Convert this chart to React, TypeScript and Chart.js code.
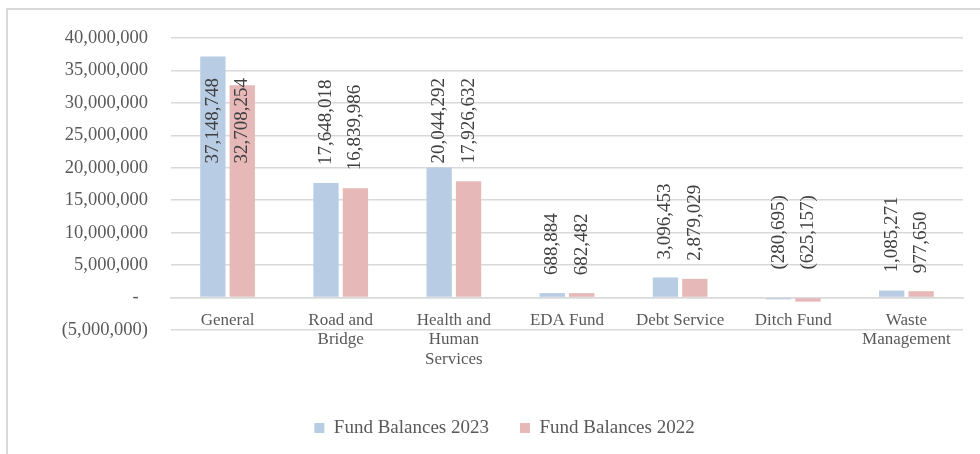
import React, { useEffect, useRef } from "react";
import { Chart, registerables } from "chart.js";

Chart.register(...registerables);

const FONT = "'Liberation Serif', 'Times New Roman', serif";

const categories: (string | string[])[] = [
  "General",
  ["Road and", "Bridge"],
  ["Health and", "Human", "Services"],
  "EDA Fund",
  "Debt Service",
  "Ditch Fund",
  ["Waste", "Management"],
];

const balances2023 = [37148748, 17648018, 20044292, 688884, 3096453, -280695, 1085271];
const balances2022 = [32708254, 16839986, 17926632, 682482, 2879029, -625157, 977650];

const seriesNames = ["Fund Balances 2023", "Fund Balances 2022"];
const seriesColors = ["#B8CCE4", "#E6B8B7"];

const yMin = -5000000;
const yMax = 40000000;
const yStep = 5000000;

const fmtNum = (v: number) => Math.abs(v).toLocaleString("en-US");
const fmtTick = (v: number) => (v === 0 ? "-  " : v < 0 ? "(" + fmtNum(v) + ")" : fmtNum(v));
const fmtLabel = (v: number) => (v < 0 ? "(" + fmtNum(v) + ")" : fmtNum(v));

const barLabels = {
  id: "barLabels",
  afterDatasetsDraw(chart: any) {
    const ctx = chart.ctx;
    const zeroY = chart.scales.y.getPixelForValue(0);
    const topLimit = chart.chartArea.top + 40;
    ctx.save();
    ctx.font = `19px ${FONT}`;
    ctx.fillStyle = "#404040";
    ctx.textBaseline = "middle";
    ctx.textAlign = "left";
    chart.data.datasets.forEach((ds: any, di: number) => {
      const meta = chart.getDatasetMeta(di);
      meta.data.forEach((bar: any, i: number) => {
        const v = ds.data[i] as number;
        const text = fmtLabel(v);
        const w = ctx.measureText(text).width;
        let bottom = v >= 0 ? Math.min(bar.y, zeroY) - 18 : zeroY - 28;
        if (bottom - w < topLimit) bottom = topLimit + w;
        ctx.save();
        ctx.translate(bar.x, bottom);
        ctx.rotate(-Math.PI / 2);
        ctx.fillText(text, 0, 0);
        ctx.restore();
      });
    });
    ctx.restore();
  },
};

export default function App() {
  const ref = useRef<HTMLCanvasElement | null>(null);

  useEffect(() => {
    if (!ref.current) return;
    const chart = new Chart(ref.current, {
      type: "bar",
      data: {
        labels: categories,
        datasets: [
          {
            label: seriesNames[0],
            data: balances2023,
            backgroundColor: seriesColors[0],
            categoryPercentage: 0.52,
            barPercentage: 0.86,
          },
          {
            label: seriesNames[1],
            data: balances2022,
            backgroundColor: seriesColors[1],
            categoryPercentage: 0.52,
            barPercentage: 0.86,
          },
        ],
      },
      options: {
        responsive: false,
        animation: false,
        layout: { padding: { left: 46, right: 17, top: 38, bottom: 6.5 } },
        plugins: {
          tooltip: { enabled: false },
          legend: {
            position: "bottom",
            title: { display: true, text: "", font: { size: 1, lineHeight: 1 }, padding: { top: 56.5, bottom: 0 } },
            labels: {
              boxWidth: 10,
              boxHeight: 10,
              padding: 31,
              color: "#595959",
              font: { family: FONT, size: 19 },
            },
          },
        },
        scales: {
          x: {
            position: { y: 0 } as any,
            grid: { display: false, drawTicks: false },
            border: { display: true, color: "#D9D9D9", width: 1.5 },
            ticks: {
              color: "#595959",
              padding: 13,
              maxRotation: 0,
              autoSkip: false,
              font: { family: FONT, size: 17, lineHeight: 1.15 },
            },
          },
          y: {
            min: yMin,
            max: yMax,
            afterFit: (s: any) => {
              s.width = 125;
            },
            grid: { color: "#D9D9D9", lineWidth: 1.5, drawTicks: false },
            border: { display: false },
            ticks: {
              stepSize: yStep,
              padding: 23,
              color: "#595959",
              font: { family: FONT, size: 18.5 },
              callback: (v: any) => fmtTick(Number(v)),
            },
          },
        },
      },
      plugins: [barLabels],
    });
    return () => chart.destroy();
  }, []);

  return (
    <div style={{ position: "absolute", left: 0, top: 0, width: 980, height: 454, background: "#fff" }}>
      <div
        style={{
          position: "absolute",
          left: 6,
          top: 8,
          width: 974,
          height: 446,
          boxSizing: "border-box",
          borderTop: "2px solid #D9D9D9",
          borderLeft: "2px solid #D9D9D9",
        }}
      />
      <canvas ref={ref} width={980} height={454} style={{ position: "absolute", left: 0, top: 0, display: "block" }} />
    </div>
  );
}
